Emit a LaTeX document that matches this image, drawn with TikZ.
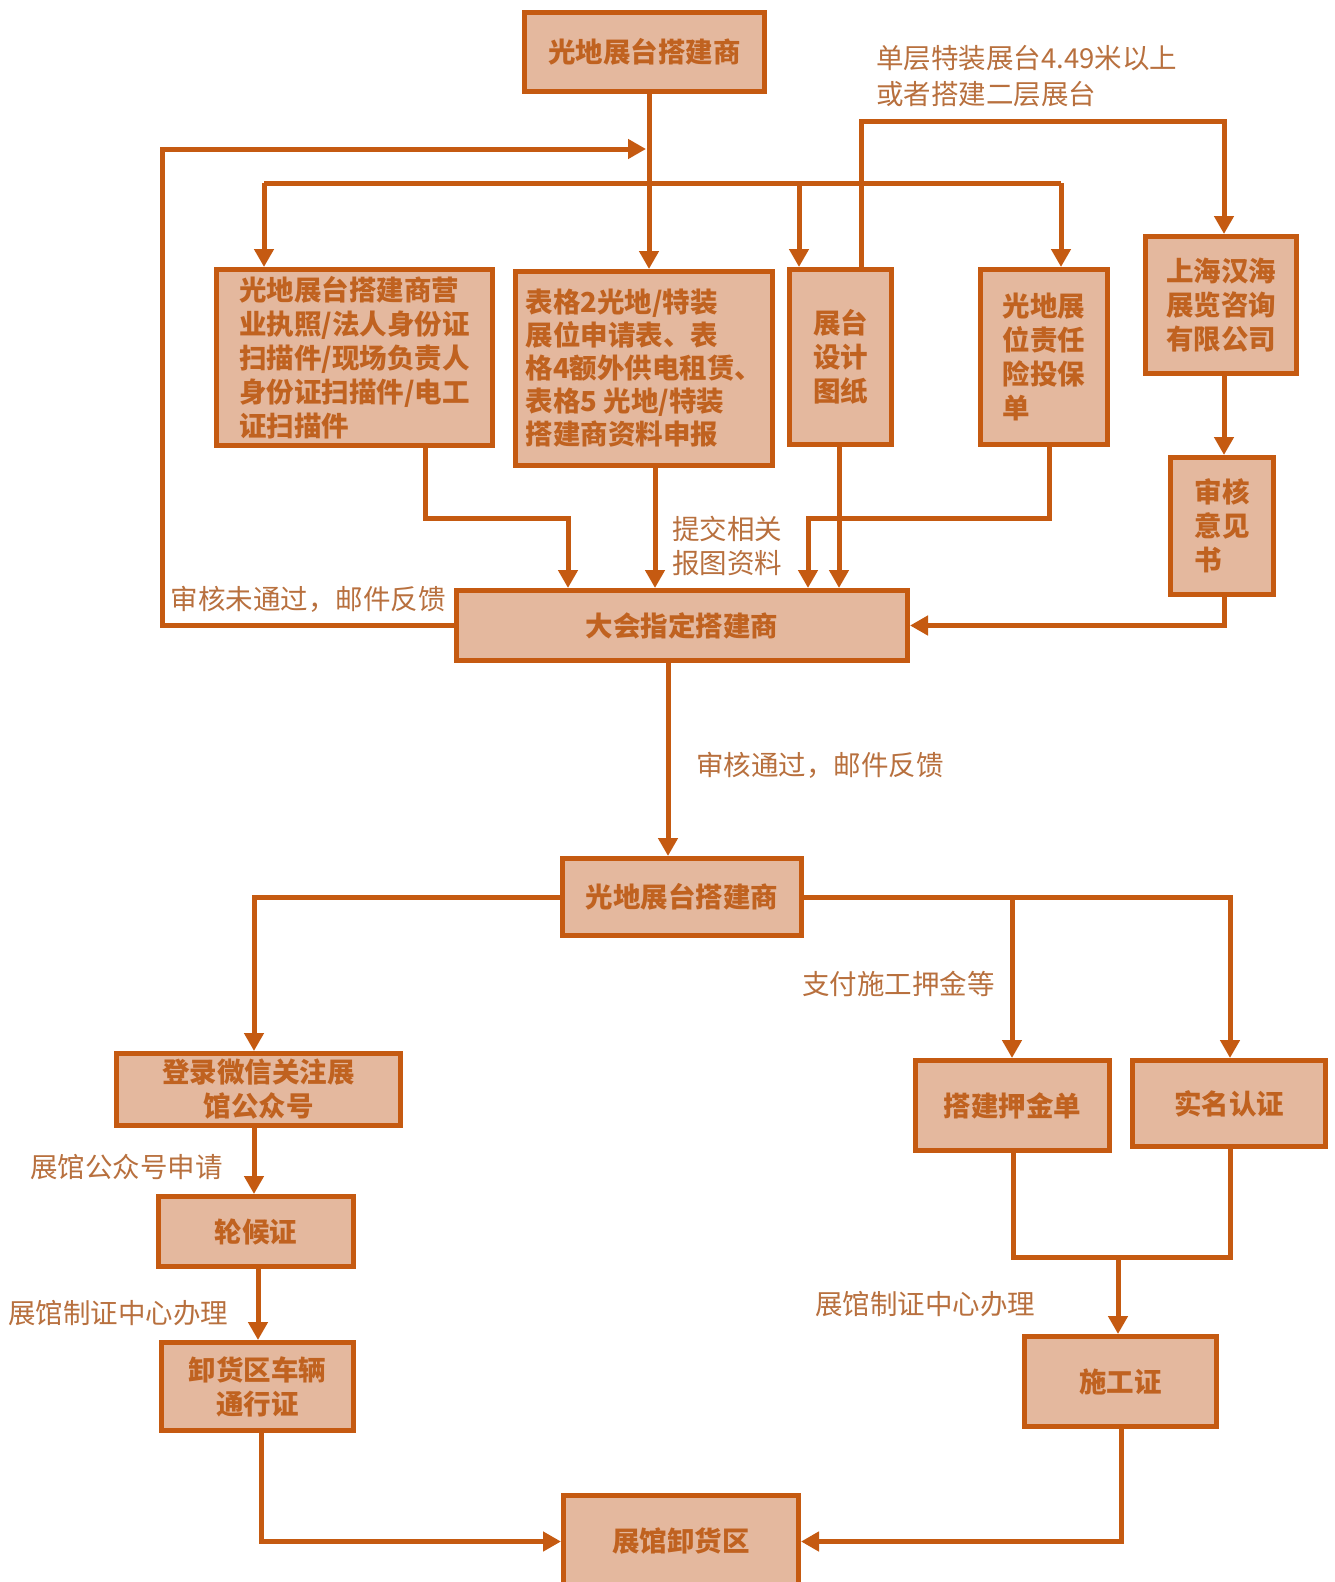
\documentclass[tikz,border=0pt]{standalone}
\usepackage{fontspec}
\setmainfont{Noto Sans CJK SC}
\usetikzlibrary{arrows.meta}
\definecolor{stroke}{RGB}{197,90,17}
\definecolor{boxfill}{RGB}{228,184,158}
\definecolor{boxtext}{RGB}{192,98,32}
\definecolor{labtext}{RGB}{184,112,62}
\tikzset{
  box/.style={draw=stroke, fill=boxfill, line width=5pt, inner sep=0pt, text=boxtext,
    font=\bfseries\fontsize{27.5}{34}\selectfont, align=center},
  lab/.style={text=labtext, inner sep=0pt, font=\fontsize{27.5}{36}\selectfont, align=left},
  ln/.style={draw=stroke, line width=5pt},
  arr/.style={ln, -{Triangle[width=19pt,length=18pt]}}
}
\begin{document}
\begin{tikzpicture}[x=1pt,y=-1pt]
\useasboundingbox[fill=white] (0,0) rectangle (1334,1582);
% boxes
\node[box, minimum width=240, minimum height=79] (top) at (644.5,52) {光地展台搭建商};
\node[box, minimum width=276, minimum height=176, align=left] (A) at (354.5,357.5) {光地展台搭建商营\\业执照/法人身份证\\扫描件/现场负责人\\身份证扫描件/电工\\证扫描件};
\node[box, minimum width=257, minimum height=194, align=left, font=\bfseries\fontsize{27.5}{33}\selectfont] (B) at (644,368.5) {表格2光地/特装\\展位申请表、表\\格4额外供电租赁、\\表格5 光地/特装\\搭建商资料申报};
\node[box, minimum width=102, minimum height=175] (C) at (840.5,357) {展台\\设计\\图纸};
\node[box, minimum width=127, minimum height=175, align=left] (D) at (1044,357) {光地展\\位责任\\险投保\\单};
\node[box, minimum width=151, minimum height=137] (E) at (1221,305) {上海汉海\\展览咨询\\有限公司};
\node[box, minimum width=103, minimum height=137, align=left] (F) at (1222,526) {审核\\意见\\书};
\node[box, minimum width=451, minimum height=70] (G) at (682,625.5) {大会指定搭建商};
\node[box, minimum width=239, minimum height=77] (H) at (682,897) {光地展台搭建商};
\node[box, minimum width=284, minimum height=72] (I) at (258.5,1089.5) {登录微信关注展\\馆公众号};
\node[box, minimum width=195, minimum height=70] (J) at (256,1231.5) {轮候证};
\node[box, minimum width=192, minimum height=88] (K) at (257.5,1386.5) {卸货区车辆\\通行证};
\node[box, minimum width=194, minimum height=90] (L) at (1012.5,1105.5) {搭建押金单};
\node[box, minimum width=193, minimum height=86] (M) at (1229,1103.5) {实名认证};
\node[box, minimum width=192, minimum height=90] (N) at (1120.5,1381.5) {施工证};
\node[box, minimum width=235, minimum height=92] (O) at (681,1541.5) {展馆卸货区};
% labels
\node[lab, anchor=west] (l1) at (876,76) {单层特装展台4.49米以上\\或者搭建二层展台};
\node[lab, anchor=east] (l2) at (446,599) {审核未通过，邮件反馈};
\node[lab, anchor=west, font=\fontsize{27.5}{34}\selectfont] (l3) at (672,546) {提交相关\\报图资料};
\node[lab, anchor=west] (l4) at (696,765) {审核通过，邮件反馈};
\node[lab, anchor=west] (l5) at (802,984) {支付施工押金等};
\node[lab, anchor=west] (l6) at (30,1167) {展馆公众号申请};
\node[lab, anchor=west] (l7) at (8,1313) {展馆制证中心办理};
\node[lab, anchor=west] (l8) at (815,1304) {展馆制证中心办理};
% junction coordinates
\coordinate (busL) at (264,183);
\coordinate (busR) at (1061,183);
\coordinate (jr) at (1012,898);
\coordinate (jb) at (1118,1257);
% connectors
\draw[arr] (top.south -| 649,0) -- (B.north -| 649,0);
\draw[ln] (busL) -- (busR);
\draw[arr] (busL) -- (A.north -| busL);
\draw[arr] (799,183) -- (C.north -| 799,0);
\draw[arr] (busR) -- (D.north -| busR);
\draw[arr] (G.west) -| (162,149) -- (646,149);
\draw[arr] (C.north -| 861,0) |- (1224,121) -- (E.north -| 1224,0);
\draw[arr] (E.south -| 1224,0) -- (F.north -| 1224,0);
\draw[arr] (F.south -| 1224,0) |- (G.east);
\draw[arr] (A.south -| 425,0) |- (568,518) -- (G.north -| 568,0);
\draw[arr] (B.south -| 655,0) -- (G.north -| 655,0);
\draw[arr] (C.south -| 839,0) -- (G.north -| 839,0);
\draw[arr] (D.south -| 1049,0) |- (808,518) -- (G.north -| 808,0);
\draw[arr] (G.south -| 668,0) -- (H.north -| 668,0);
\draw[arr] (H.west) -| (I.north -| 254,0);
\draw[arr] (I.south -| 254,0) -- (J.north -| 254,0);
\draw[arr] (J.south -| 258,0) -- (K.north -| 258,0);
\draw[arr] (K.south -| 261,0) |- (O.west);
\draw[arr] (H.east) -| (M.north -| 1230,0);
\draw[arr] (jr) -- (L.north -| jr);
\draw[ln] (L.south -| 1013,0) |- (jb) -| (M.south -| 1230,0);
\draw[arr] (jb) -- (N.north -| jb);
\draw[arr] (N.south -| 1121,0) |- (O.east);
\end{tikzpicture}
\end{document}
